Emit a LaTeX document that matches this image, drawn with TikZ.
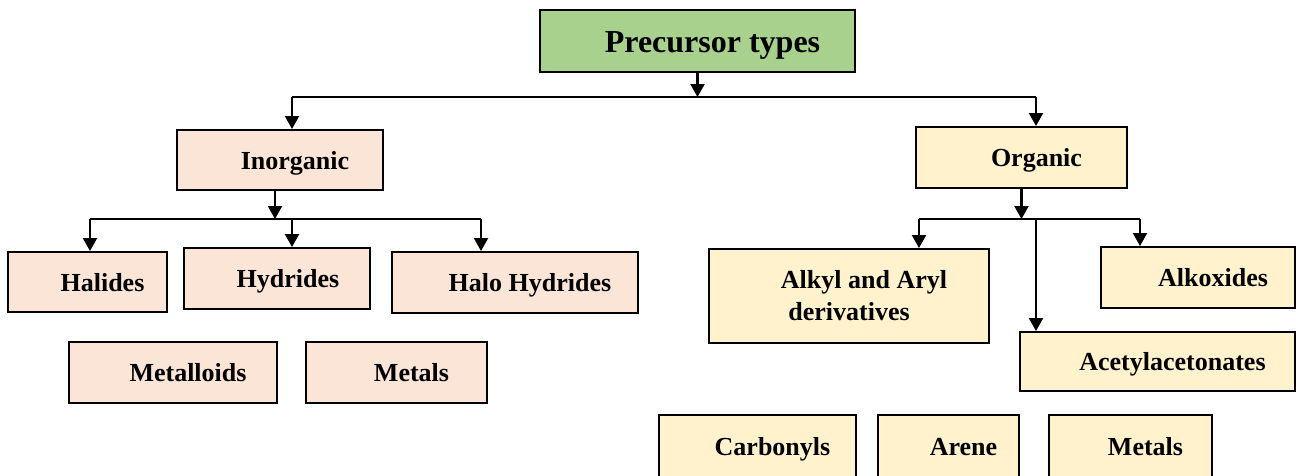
\documentclass[tikz,border=0pt]{standalone}
\usepackage{fontspec}
\setmainfont{Liberation Serif}
\usetikzlibrary{arrows.meta}
\definecolor{grn}{RGB}{169,209,142}
\definecolor{pch}{RGB}{251,229,214}
\definecolor{crm}{RGB}{255,242,204}

\begin{document}
\begin{tikzpicture}[x=1pt,y=-1pt,
  box/.style={draw,line width=2pt,inner sep=0pt,align=center,
    font=\fontsize{26}{32}\selectfont\bfseries},
  line1/.style={text height=18pt,text depth=0pt},
  inorg/.style={box,line1,fill=pch},
  org/.style={box,line1,fill=crm},
  bar/.style={line width=2.2pt},
  arr/.style={line width=2.2pt,-{Triangle[length=13pt,width=14pt]}}]
\useasboundingbox (0,0) rectangle (1296,475);
\clip (0,0) rectangle (1296,475);

% root
\node[box,fill=grn,minimum width=315pt,minimum height=62pt,text height=22pt,text depth=0pt,
  font=\fontsize{32}{38}\selectfont\bfseries] (P) at (697.5,41) {\hspace*{30pt}Precursor types};

% two main branches
\node[inorg,minimum width=206pt,minimum height=60pt] (I) at (280,160) {\hspace*{30pt}Inorganic};
\node[org,minimum width=211pt,minimum height=61pt] (O) at (1021.5,157.5) {\hspace*{30pt}Organic};

% inorganic kinds
\node[inorg,minimum width=159pt,minimum height=60pt] (I1) at (87.5,282) {\hspace*{30pt}Halides};
\node[inorg,minimum width=186pt,minimum height=61pt] (I2) at (277,278.5) {\hspace*{22pt}Hydrides};
\node[inorg,minimum width=246pt,minimum height=61pt] (I3) at (515,282.5) {\hspace*{30pt}Halo Hydrides};
\node[inorg,minimum width=208pt,minimum height=61pt] (I4) at (173,372.5) {\hspace*{30pt}Metalloids};
\node[inorg,minimum width=181pt,minimum height=61pt] (I5) at (396.5,372.5) {\hspace*{30pt}Metals};

% organic kinds
\node[box,fill=crm,minimum width=280pt,minimum height=94pt] (O1) at (849,296) {\hspace*{30pt}Alkyl and Aryl\\derivatives};
\node[org,minimum width=194pt,minimum height=61pt] (O2) at (1198,277.5) {\hspace*{30pt}Alkoxides};
\node[org,minimum width=275pt,minimum height=59pt] (O3) at (1157.5,361.5) {\hspace*{30pt}Acetylacetonates};
\node[org,minimum width=197pt,minimum height=63pt] (O4) at (757.5,446.5) {\hspace*{30pt}Carbonyls};
\node[org,minimum width=141pt,minimum height=63pt] (O5) at (948.5,446.5) {\hspace*{30pt}Arene};
\node[org,minimum width=163pt,minimum height=63pt] (O6) at (1130.5,446.5) {\hspace*{30pt}Metals};

% bar ends
\coordinate (T1) at (292,97);
\coordinate (T2) at (1036,97);
\coordinate (L1) at (90,219);
\coordinate (L2) at (292,219);
\coordinate (L3) at (481,219);
\coordinate (R1) at (919,219);
\coordinate (R2) at (1036,219);
\coordinate (R3) at (1140,219);

% top level
\draw[bar] (T1) -- (T2);
\draw[arr] (P.south) -- (P.south |- T1);
\draw[arr] (T1) -- (T1 |- I.north);
\draw[arr] (T2) -- (T2 |- O.north);

% inorganic side
\draw[bar] (L1) -- (L3);
\draw[arr] ([xshift=-5pt]I.south) -- ([xshift=-5pt]I.south |- L1);
\draw[arr] (L1) -- (L1 |- I1.north);
\draw[arr] (L2) -- (L2 |- I2.north);
\draw[arr] (L3) -- (L3 |- I3.north);

% organic side
\draw[bar] (R1) -- (R3);
\draw[arr] (O.south) -- (O.south |- R1);
\draw[arr] (R1) -- (R1 |- O1.north);
\draw[arr] (R2) -- (R2 |- O3.north);
\draw[arr] (R3) -- (R3 |- O2.north);
\end{tikzpicture}
\end{document}
